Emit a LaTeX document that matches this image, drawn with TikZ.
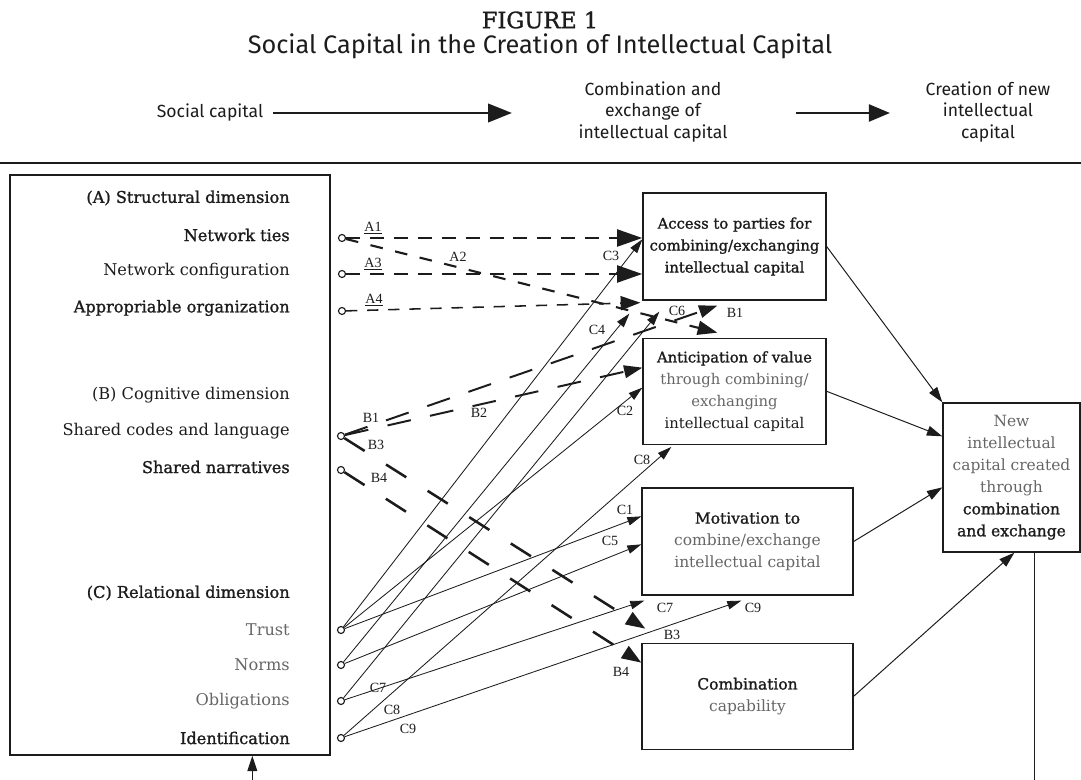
\documentclass[tikz,border=0pt]{standalone}
\usepackage{fontspec}
\setmainfont{DejaVu Serif}
\newfontfamily\heavy[FakeBold=1.3]{DejaVu Serif}
\newfontfamily\headfont{Fira Sans}
\newfontfamily\lblfont{Liberation Serif}
\usepackage{tikz}
\usetikzlibrary{arrows.meta, positioning, calc}
\definecolor{ink}{HTML}{1C1C1C}
\definecolor{inkgray}{HTML}{666666}

\begin{document}
\begin{tikzpicture}[x=0.025cm, y=-0.025cm,
    head/.style={font=\headfont\fontsize{12.5}{15}\selectfont, text=ink, inner sep=1pt},
    hdarrow/.style={draw=ink, line width=2pt, -{Triangle[length=17pt, width=13pt]}},
    box/.style={draw=ink, line width=0.9pt, align=center, inner sep=0pt, text=ink},
    item/.style={anchor=east, inner sep=0pt, text=ink, font=\fontsize{11.5}{14}\selectfont},
    bolditem/.style={item, font=\heavy\fontsize{11.5}{14}\selectfont},
    faint/.style={item, text=inkgray},
    src/.style={circle, draw=ink, line width=0.8pt, inner sep=0pt, minimum size=5pt},
    lbl/.style={inner sep=0pt, text=ink, font=\lblfont\fontsize{10}{10}\selectfont},
    structA/.style={draw=ink, line width=2pt, dash pattern=on 10pt off 7pt, -{Triangle[length=18pt, width=12pt]}},
    structB/.style={draw=ink, line width=1.5pt, dash pattern=on 9pt off 9pt, -{Triangle[length=14pt, width=10pt]}},
    structC/.style={draw=ink, line width=1.1pt, dash pattern=on 8pt off 7pt, -{Triangle[length=14pt, width=10pt]}},
    cogn/.style={draw=ink, line width=1.4pt, dash pattern=on 17pt off 14pt, -{Triangle[length=13pt, width=9pt]}},
    cognlong/.style={draw=ink, line width=1.8pt, dash pattern=on 17pt off 18pt, -{Triangle[length=14pt, width=10pt]}},
    rel/.style={draw=ink, line width=0.6pt, -{Triangle[length=10pt, width=6pt]}},
    flow/.style={draw=ink, line width=0.7pt, -{Triangle[length=11pt, width=7pt]}}
]
\useasboundingbox (0,0) rectangle (1081,780);

% title and header
\node[font=\heavy\fontsize{16}{16}\selectfont, text=ink] (fig) at (540,20) {FIGURE 1};
\node[font=\headfont\fontsize{18}{18}\selectfont, text=ink] (title) at (540,46) {Social Capital in the Creation of Intellectual Capital};
\node[head] (hsoc) at (210,113) {Social capital};
\node[head, align=center] (hcomb) at (653,112) {Combination and\\exchange of\\intellectual capital};
\node[head, align=center] (hcre) at (988,112) {Creation of new\\intellectual\\capital};
\draw[hdarrow] ([xshift=6pt]hsoc.east) -- ($(hcomb.center)+(-141,1)$);
\draw[hdarrow, -{Triangle[length=15pt, width=12pt]}] ($(hcomb.center)+(143,1)$) -- ($(hcre.center)+(-98,1)$);
\draw[ink, line width=1.6pt] (0,163) -- (1081,163);

% social capital dimensions
\node[draw=ink, line width=0.9pt, minimum width=8cm, minimum height=14.5cm] (dims) at (170,465) {};
\node[bolditem] (dimA)   at (290,198) {(A) Structural dimension};
\node[bolditem] (ties)   at (290,235) {Network ties};
\node[item]     (config) at (290,271) {Network configuration};
\node[bolditem] (approp) at (290,308) {Appropriable organization};
\node[item]     (dimB)   at (290,395) {(B) Cognitive dimension};
\node[item]     (codes)  at (290,431) {Shared codes and language};
\node[bolditem] (narr)   at (290,467) {Shared narratives};
\node[bolditem] (dimC)   at (290,593) {(C) Relational dimension};
\node[faint]    (trust)  at (290,630) {Trust};
\node[faint]    (norms)  at (290,665) {Norms};
\node[faint]    (oblig)  at (290,701) {Obligations};
\node[bolditem] (ident)  at (290,738) {Identification};

% sources
\node[src] (sA1) at (342,238) {};
\node[src] (sA3) at (342,274) {};
\node[src] (sA4) at (342,311) {};
\node[src] (sB1) at (341,436) {};
\node[src] (sB4) at (341,470) {};
\node[src] (sC1) at (341,630) {};
\node[src] (sC2) at (341,665) {};
\node[src] (sC3) at (341,701) {};
\node[src] (sC4) at (341,738) {};

% combination and exchange
\node[box, minimum width=4.575cm, minimum height=2.675cm, font=\fontsize{10.5}{15.6}\selectfont] (acc) at (734.5,246.5)
    {{\heavy Access to parties for}\\{\heavy combining/exchanging}\\{\heavy intellectual capital}};
\node[box, minimum width=4.575cm, minimum height=2.65cm, font=\fontsize{10.5}{15.6}\selectfont] (ant) [below=0.925cm of acc]
    {{\heavy Anticipation of value}\\\textcolor{inkgray}{through combining/}\\\textcolor{inkgray}{exchanging}\\intellectual capital};
\node[box, minimum width=5.275cm, minimum height=2.675cm, font=\fontsize{11}{15.6}\selectfont] (mot) at (747.5,541.5)
    {{\heavy Motivation to}\\\textcolor{inkgray}{combine/exchange}\\\textcolor{inkgray}{intellectual capital}};
\node[box, minimum width=5.275cm, minimum height=2.65cm, font=\fontsize{11}{15.6}\selectfont] (comb) [below=1.175cm of mot]
    {{\heavy Combination}\\\textcolor{inkgray}{capability}};
\node[box, minimum width=3.425cm, minimum height=3.725cm, font=\fontsize{11}{15.6}\selectfont] (new) at (1011.5,477.5)
    {\textcolor{inkgray}{New}\\\textcolor{inkgray}{intellectual}\\\textcolor{inkgray}{capital created}\\\textcolor{inkgray}{through}\\{\heavy combination}\\{\heavy and exchange}};

% end points
\coordinate (eA2) at ($(ant.north west)+(75,-5)$);
\coordinate (eA4) at ($(acc.south west)+(-2,2)$);
\coordinate (eB1) at ($(acc.south west)+(75,5)$);
\coordinate (eB2) at ($(ant.north west)+(0,30)$);
\coordinate (eB3) at ($(comb.north west)+(4,-14)$);
\coordinate (eB4) at ($(comb.north west)+(0,20)$);
\coordinate (eC1) at ($(mot.north west)+(0,29)$);
\coordinate (eC2) at ($(ant.north west)+(0,50)$);
\coordinate (eC3) at ($(acc.north west)+(0,47)$);
\coordinate (eC4) at ($(acc.south west)+(-13,13)$);
\coordinate (eC5) at ($(mot.north west)+(0,57)$);
\coordinate (eC6) at ($(acc.south west)+(17,11)$);
\coordinate (eC7) at ($(mot.south west)+(3,5)$);
\coordinate (eC8) at ($(ant.south west)+(29,2)$);
\coordinate (eC9) at ($(mot.south west)+(100,5)$);
\coordinate (eN1) at ($(new.north west)+(0,34)$);
\coordinate (eN2) at ($(new.north west)+(0,85)$);
\coordinate (eN3) at ($(new.south west)+(72,0)$);
\coordinate (fbR) at ($(new.south west)+(92,0)$);
\coordinate (fbL) at ($(dims.south west)+(243,0)$);

% structural links
\draw[structA] (sA1) -- (acc.west |- sA1);
\draw[structA] (sA3) -- (acc.west |- sA3);
\draw[structB] (sA1) -- (eA2);
\draw[structC] (sA4) -- (eA4);

% cognitive links
\draw[cogn] (sB1) -- (eB1);
\draw[cogn] (sB1) -- (eB2);
\draw[cognlong] (sB1) -- (eB3);
\draw[cognlong] (sB4) -- (eB4);

% relational links
\draw[rel] (sC1) -- (eC3);
\draw[rel] (sC1) -- (eC2);
\draw[rel] (sC1) -- (eC1);
\draw[rel] (sC2) -- (eC4);
\draw[rel] (sC2) -- (eC5);
\draw[rel] (sC3) -- (eC6);
\draw[rel] (sC3) -- (eC7);
\draw[rel] (sC4) -- (eC8);
\draw[rel] (sC4) -- (eC9);

% into new intellectual capital
\draw[flow] (acc.east) -- (new.north west);
\draw[flow] (ant.east) -- (eN1);
\draw[flow] (mot.east) -- (eN2);
\draw[flow] (comb.east) -- (eN3);
\draw[flow] (fbR) -- ++(0,240) -| (fbL);

% labels
\node[lbl] (lA1)  at (373,228) {\underline{A1}};
\node[lbl] (lA3)  at (373,264) {\underline{A3}};
\node[lbl] (lA4)  at (374,300) {\underline{A4}};
\node[lbl] (lA2)  at (458,257) {A2};
\node[lbl] (lB1)  at (371,418) {B1};
\node[lbl] (lB1e) at (735,313) {B1};
\node[lbl] (lB2)  at (479,413) {B2};
\node[lbl] (lB3)  at (376,445) {B3};
\node[lbl] (lB3e) at (672,635) {B3};
\node[lbl] (lB4)  at (379,478) {B4};
\node[lbl] (lB4e) at (621,672) {B4};
\node[lbl] (lC1)  at (625,510) {C1};
\node[lbl] (lC2)  at (625,411) {C2};
\node[lbl] (lC3)  at (611,256) {C3};
\node[lbl] (lC4)  at (597,330) {C4};
\node[lbl] (lC5)  at (610,541) {C5};
\node[lbl] (lC6)  at (677,311) {C6};
\node[lbl] (lC7)  at (378,688) {C7};
\node[lbl] (lC7e) at (665,608) {C7};
\node[lbl] (lC8)  at (392,710) {C8};
\node[lbl] (lC8e) at (642,460) {C8};
\node[lbl] (lC9)  at (408,729) {C9};
\node[lbl] (lC9e) at (753,608) {C9};
\end{tikzpicture}
\end{document}
